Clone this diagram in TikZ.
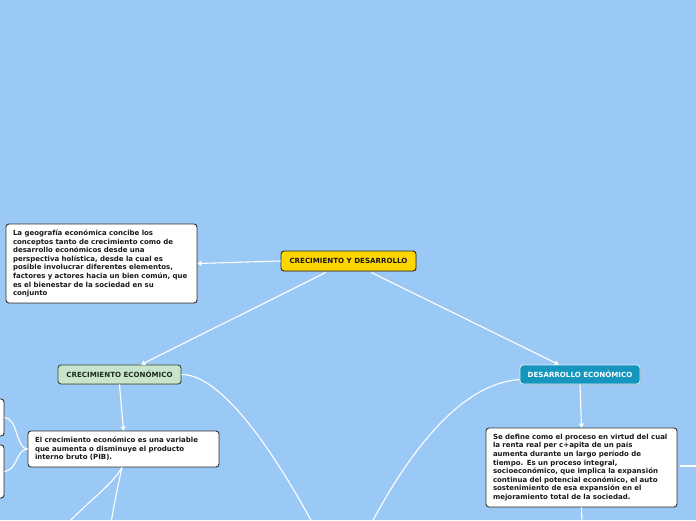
\documentclass[tikz,border=0pt]{standalone}
\usepackage{fontspec}
\setmainfont{DejaVu Sans}
\usetikzlibrary{calc,shadows,arrows.meta}
\definecolor{bg}{RGB}{155,201,245}
\definecolor{yel}{RGB}{255,213,0}
\definecolor{grn}{RGB}{200,229,204}
\definecolor{tea}{RGB}{22,150,190}
\definecolor{txt}{RGB}{25,25,25}
\tikzset{
  box/.style={draw=black!80, line width=0.9pt, rounded corners=3pt, inner sep=0pt,
    font=\bfseries\fontsize{7}{8.6}\selectfont, text=txt, align=left,
    drop shadow={shadow xshift=0.6pt, shadow yshift=-0.6pt, opacity=0.45}},
  desc/.style={box, fill=white},
  title/.style={box, align=center, font=\bfseries\fontsize{7.1}{8}\selectfont},
  conn/.style={draw=white, line width=1.1pt},
  arr/.style={conn, -{Triangle[length=4pt,width=5pt]}},
}
\begin{document}
\begin{tikzpicture}[x=1pt,y=-1pt]
\useasboundingbox (0,0) rectangle (696,520);
\fill[bg] (0,0) rectangle (696,520);
\clip (0,0) rectangle (696,520);

% nodes
\node[title, fill=yel, draw=black!85, minimum width=135pt, minimum height=20pt] (c) at (348.5,261) {CRECIMIENTO Y DESARROLLO};
\node[desc, minimum width=191pt, minimum height=79pt, text width=177pt] (ld) at (101.5,263.5)
 {La geografía económica concibe los\\conceptos tanto de crecimiento como de\\desarrollo económicos desde una\\perspectiva holística, desde la cual es\\posible involucrar diferentes elementos,\\factores y actores hacia un bien común, que\\es el bienestar de la sociedad en su\\conjunto};
\node[title, fill=grn, draw={rgb,255:red,55;green,75;blue,55}, text={rgb,255:red,30;green,45;blue,30}, minimum width=123pt, minimum height=19pt] (cr) at (119.5,374.5) {CRECIMIENTO ECONÓMICO};
\node[title, fill=tea, draw={rgb,255:red,215;green,235;blue,245}, text=white, minimum width=120pt, minimum height=19pt] (de) at (580,374.5) {DESARROLLO ECONÓMICO};
\node[desc, minimum width=191pt, minimum height=36pt, text width=177pt] (cd) at (123.5,449)
 {El crecimiento económico es una variable\\que aumenta o disminuye el producto\\interno bruto (PIB).};
\node[desc, minimum width=191pt, minimum height=79pt, text width=177pt] (dd) at (581.5,467.5)
 {Se define como el proceso en virtud del cual\\la renta real per c+apita de un país\\aumenta durante un largo período de\\tiempo. Es un proceso integral,\\socioeconómico, que implica la expansión\\continua del potencial económico, el auto\\sostenimiento de esa expansión en el\\mejoramiento total de la sociedad.};
\node[desc, minimum width=16pt, minimum height=37pt] (b1) at (-4,417.5) {};
\node[desc, minimum width=16pt, minimum height=53pt] (b2) at (-4,471.5) {};

% free ends
\coordinate (e1) at (313,524);
\coordinate (e2) at (371,524);
\coordinate (e3) at (68,523);
\coordinate (e4) at (111,523);
\coordinate (e5) at (700,466);
\coordinate (e6) at (582,524);

% connectors
\draw[arr] (c.west) -- (ld.east);
\draw[arr] ($(c.south west)!0.333!(c.south east)+(0,1)$) -- ($(cr.north west)!0.675!(cr.north east)$);
\draw[arr] ($(c.south west)!0.667!(c.south east)+(0,1)$) -- ($(de.north west)!0.325!(de.north east)$);
\draw[arr] (cr.south) -- (cd.north);
\draw[arr] (de.south) -- (dd.north);
\draw[conn] (cr.east) .. controls (215,374) and (262,430) .. (e1);
\draw[conn] ($(de.west)+(0,5)$) .. controls (470,383) and (420,432) .. (e2);
\draw[conn] (cd.west) .. controls (16,449) and (18,418) .. (b1.east);
\draw[conn] (cd.west) .. controls (16,449) and (18,470) .. (b2.east);
\draw[conn] ($(cd.south)+(-1.5,0)$) .. controls (112,485) and (90,500) .. (e3);
\draw[conn] ($(cd.south)+(-1.5,0)$) .. controls (118,485) and (114,505) .. (e4);
\draw[conn] ($(dd.east)+(3,-1.5)$) -- (e5);
\draw[conn] (dd.south) -- (e6);
\end{tikzpicture}
\end{document}
